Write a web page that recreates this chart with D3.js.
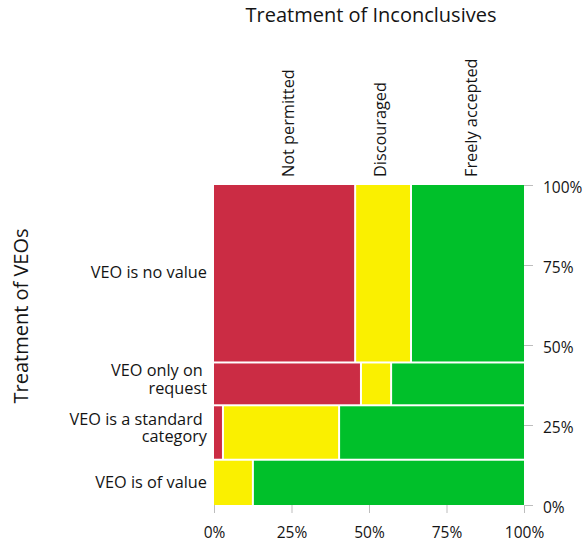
<!DOCTYPE html>
<html>
<head>
<meta charset="utf-8">
<script src="https://cdn.jsdelivr.net/npm/d3@7"></script>
<style>
    body { margin: 0; background: #fff; }
    svg text { font-family: "Open Sans", sans-serif; fill: #141414; }
    .tick line { stroke: #bdbdbd; }
</style>
</head>
<body>
<svg id="mosaic" width="587" height="541"></svg>
<script>
// Treatment of VEOs (rows, top to bottom) vs treatment of inconclusives (columns)
const rowLabels = ['VEO is no value', 'VEO only on \nrequest', 'VEO is a standard \ncategory', 'VEO is of value'];
const rowShare = [56.2, 13.0, 16.7, 14.1];            // % of all answers
const columns = ['Not permitted', 'Discouraged', 'Freely accepted'];
const notPermitted = [45.8, 47.7, 2.6, 0];            // % within row
const discouraged = [17.6, 9.2, 37.3, 12.3];
const freelyAccepted = [36.6, 43.1, 60.1, 87.7];
const tickValues = [0, 25, 50, 75, 100];
const colors = ['#cb2c44', '#faf000', '#00c02a'];

const svg = d3.select('#mosaic');
const plotLeft = 214, plotRight = 524, plotTop = 185, plotBottom = 505;
const gap = 2;

let x = d3.scaleLinear().domain([0, 100]).range([plotLeft, plotRight]);
let y = d3.scaleLinear().domain([0, 100]).range([plotBottom, plotTop]);

let colValues = [notPermitted, discouraged, freelyAccepted];
let rowScale = d3.scaleLinear().domain([0, 100])
    .range([0, (plotBottom - plotTop) - gap * (rowLabels.length - 1)]);

// build the tiles
let tiles = [];
let rowMeta = [];
let rowCum = 0;
rowLabels.forEach((label, i) => {
    let y0 = plotTop + rowScale(rowCum) + i * gap;
    let h = rowScale(rowShare[i]);
    rowMeta.push({ label: label, cy: y0 + h / 2 });
    rowCum += rowShare[i];

    let cells = colValues.map((vals, j) => ({ v: vals[i], color: colors[j] })).filter(d => d.v > 0);
    let cellScale = d3.scaleLinear().domain([0, 100])
        .range([0, (plotRight - plotLeft) - gap * (cells.length - 1)]);
    let cum = 0;
    cells.forEach((c, j) => {
        tiles.push({
            x: plotLeft + cellScale(cum) + j * gap,
            w: cellScale(c.v),
            y: y0,
            h: h,
            color: c.color
        });
        cum += c.v;
    });
});

svg.append('g')
    .selectAll('rect')
    .data(tiles)
    .enter()
    .append('rect')
    .attr('x', d => d.x)
    .attr('y', d => d.y)
    .attr('width', d => d.w)
    .attr('height', d => d.h)
    .attr('fill', d => d.color);

// axes
let xAxis = svg.append('g')
    .attr('transform', `translate(0,${plotBottom})`)
    .call(d3.axisBottom(x).tickValues(tickValues).tickFormat(d => d + '%').tickSize(8).tickPadding(9));
let yAxis = svg.append('g')
    .attr('transform', `translate(${plotRight},0)`)
    .call(d3.axisRight(y).tickValues(tickValues).tickFormat(d => d + '%').tickSize(9).tickPadding(10));
[xAxis, yAxis].forEach(a => {
    a.select('.domain').remove();
    a.selectAll('text').style('font-size', '15.5px');
});
xAxis.selectAll('text').attr('dy', '1em');
yAxis.selectAll('text').attr('dy', '0.5em');

// row labels
rowMeta.forEach(r => {
    let lines = r.label.split('\n');
    let n = lines.length;
    let t = svg.append('text')
        .attr('text-anchor', 'end')
        .style('font-size', '16.3px')
        .style('white-space', 'pre');
    lines.forEach((line, i) => {
        t.append('tspan')
            .attr('x', plotLeft - 7)
            .attr('y', r.cy + 5 + (i - (n - 1) / 2) * 17.7 - (n - 1) * 4)
            .text(line);
    });
});

// column labels
let colPos = d3.scalePoint().domain(columns).range([288.5, 471.5]);
svg.append('g')
    .selectAll('text')
    .data(columns)
    .enter()
    .append('text')
    .attr('transform', d => `translate(${colPos(d)},177) rotate(-90)`)
    .attr('dy', '0.36em')
    .style('font-size', '16.3px')
    .text(d => d);

// titles
svg.append('text')
    .attr('x', (plotLeft + plotRight) / 2 + 2)
    .attr('y', 21.5)
    .attr('text-anchor', 'middle')
    .style('font-size', '20px')
    .text('Treatment of Inconclusives');

svg.append('text')
    .attr('transform', 'translate(28.3,316) rotate(-90)')
    .attr('text-anchor', 'middle')
    .style('font-size', '20px')
    .text('Treatment of VEOs');
</script>
</body>
</html>
